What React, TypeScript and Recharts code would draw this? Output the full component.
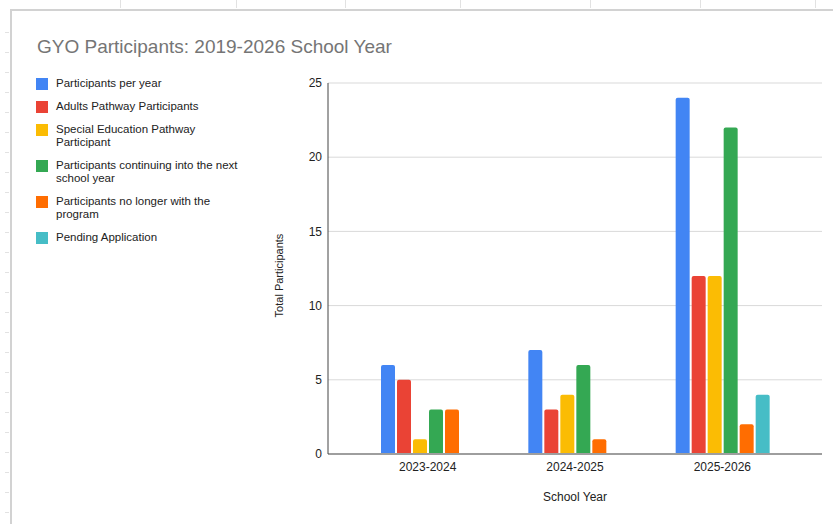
import { BarChart, Bar, XAxis, YAxis, CartesianGrid } from "recharts";

const schoolYears = ["2023-2024", "2024-2025", "2025-2026"];
const participantsPerYear = [6, 7, 24];
const adultsPathway = [5, 3, 12];
const specialEdPathway = [1, 4, 12];
const continuingNextYear = [3, 6, 22];
const noLongerInProgram = [3, 1, 2];
const pendingApplication = [0, 0, 4];
const yTicks = [0, 5, 10, 15, 20, 25];

const series = [
  { key: "perYear", lines: ["Participants per year"], values: participantsPerYear, color: "#4285F4" },
  { key: "adults", lines: ["Adults Pathway Participants"], values: adultsPathway, color: "#EA4335" },
  { key: "specialEd", lines: ["Special Education Pathway", "Participant"], values: specialEdPathway, color: "#FBBC04" },
  { key: "continuing", lines: ["Participants continuing into the next", "school year"], values: continuingNextYear, color: "#34A853" },
  { key: "leftProgram", lines: ["Participants no longer with the", "program"], values: noLongerInProgram, color: "#FF6D01" },
  { key: "pending", lines: ["Pending Application"], values: pendingApplication, color: "#46BDC6" },
];

// one row per school year, one key per series
const rows = schoolYears.map((year, i) => {
  const row: Record<string, string | number> = { year };
  for (const s of series) row[s.key] = s.values[i];
  return row;
});

const FONT = "'Liberation Sans', Arial, sans-serif";

function SheetFrame() {
  const cols = [120, 236, 345, 460, 590, 700, 815];
  const rowTicks = Array.from({ length: 25 }, (_, i) => 32 + i * 20);
  return (
    <>
      {cols.map((x) => (
        <div key={x} style={{ position: "absolute", left: x, top: 0, width: 1, height: 8, background: "#e2e2e2" }} />
      ))}
      {rowTicks.map((y) => (
        <div key={y} style={{ position: "absolute", left: 5, top: y, width: 4, height: 1, background: "#e2e2e2" }} />
      ))}
      <div
        style={{
          position: "absolute",
          left: 10,
          top: 9,
          width: 823,
          height: 515,
          borderTop: "2px solid #d2d2d2",
          borderLeft: "2px solid #d2d2d2",
          boxSizing: "border-box",
        }}
      />
    </>
  );
}

function SideLegend() {
  return (
    <div style={{ position: "absolute", left: 36, top: 76.5, fontSize: 11.5, color: "#222", lineHeight: "13px" }}>
      {series.map((s) => (
        <div key={s.key} style={{ display: "flex", marginBottom: 10 }}>
          <div style={{ width: 12, height: 12, background: s.color, marginTop: 1, marginRight: 8, flexShrink: 0 }} />
          <div>
            {s.lines.map((l) => (
              <div key={l}>{l}</div>
            ))}
          </div>
        </div>
      ))}
    </div>
  );
}

export default function App() {
  return (
    <div
      style={{
        position: "absolute",
        left: 0,
        top: 0,
        width: 833,
        height: 524,
        background: "#fff",
        fontFamily: FONT,
        overflow: "hidden",
      }}
    >
      <SheetFrame />
      <div style={{ position: "absolute", left: 37, top: 36, fontSize: 19, color: "#757575" }}>
        GYO Participants: 2019-2026 School Year
      </div>
      <SideLegend />
      <div style={{ position: "absolute", left: 0, top: 0 }}>
        <BarChart
          width={833}
          height={524}
          data={rows}
          margin={{ top: 83, right: 11, bottom: 40, left: 278 }}
          barSize={14}
          barGap={2}
        >
          <CartesianGrid vertical={false} stroke="#d9d9d9" />
          <XAxis
            dataKey="year"
            padding={{ left: 26, right: 26 }}
            axisLine={{ stroke: "#9e9e9e", strokeWidth: 2 }}
            tickLine={false}
            tick={{ fill: "#222", fontSize: 12 }}
            label={{ value: "School Year", position: "bottom", offset: 8, fill: "#222", fontSize: 12 }}
          />
          <YAxis
            width={50}
            domain={[0, 25]}
            ticks={yTicks}
            axisLine={{ stroke: "#444" }}
            tickLine={false}
            tickSize={4}
            tick={{ fill: "#222", fontSize: 12 }}
            label={({ viewBox }: any) => (
              <text
                x={viewBox.x + 1}
                y={viewBox.y + viewBox.height / 2 + 7}
                transform={`rotate(-90 ${viewBox.x + 1} ${viewBox.y + viewBox.height / 2 + 7})`}
                textAnchor="middle"
                dominantBaseline="central"
                fill="#222"
                fontSize={11}
              >
                Total Participants
              </text>
            )}
          />
          {series.map((s) => (
            <Bar key={s.key} dataKey={s.key} fill={s.color} radius={[2, 2, 0, 0]} isAnimationActive={false} />
          ))}
        </BarChart>
      </div>
    </div>
  );
}
